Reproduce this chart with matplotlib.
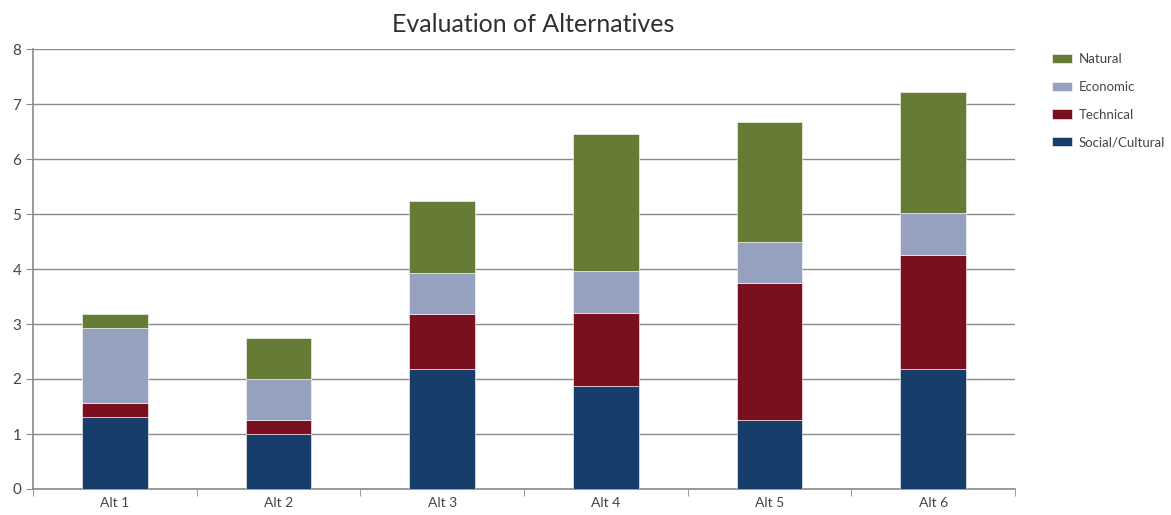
import matplotlib
matplotlib.use("Agg")
import matplotlib.pyplot as plt
import numpy as np

categories = ["Alt 1", "Alt 2", "Alt 3", "Alt 4", "Alt 5", "Alt 6"]
social = [1.31, 1.0, 2.18, 1.87, 1.25, 2.18]
technical = [0.25, 0.25, 1.0, 1.33, 2.5, 2.08]
economic = [1.37, 0.75, 0.75, 0.76, 0.74, 0.75]
natural = [0.25, 0.75, 1.31, 2.49, 2.19, 2.21]
series_names = ["Social/Cultural", "Technical", "Economic", "Natural"]
colors = ["#173D6A", "#7A0F1F", "#95A1BF", "#667B35"]

plt.rcParams['font.family'] = ['Lato', 'DejaVu Sans']

fig = plt.figure(figsize=(11.71, 5.15), dpi=100)
ax = fig.add_axes([33/1171, 1 - 489/515, (1015-33)/1171, (489-49)/515])

x = np.arange(len(categories))
bottom = np.zeros(len(categories))
handles = []
for vals, name, c in zip([social, technical, economic, natural], series_names, colors):
    b = ax.bar(x, vals, bottom=bottom, width=0.4, color=c, label=name,
               edgecolor="white", linewidth=0.4, zorder=3)
    handles.append(b)
    bottom += np.array(vals)

ax.set_xlim(-0.5, len(categories) - 0.5)
ax.set_ylim(0, 8)
ax.set_yticks(range(0, 9))
ax.yaxis.grid(True, color="#8a8a8a", linewidth=1.0, zorder=0)
ax.set_axisbelow(True)

ax.set_xticks(x)
ax.set_xticklabels(categories)
ax.set_xticks(np.arange(-0.5, len(categories) + 0.5, 1), minor=True)
ax.tick_params(axis="x", which="major", length=0, labelsize=10, colors="#454545", pad=6)
ax.tick_params(axis="x", which="minor", length=5, color="#8a8a8a", direction="out")
ax.tick_params(axis="y", length=5, color="#8a8a8a", labelsize=11, labelcolor="#454545", direction="out")

for s in ["top", "right"]:
    ax.spines[s].set_visible(False)
ax.spines["left"].set_color("#8a8a8a")
ax.spines["bottom"].set_color("#8a8a8a")
ax.spines["left"].set_linewidth(1.2)
ax.spines["bottom"].set_linewidth(1.2)

fig.text(533/1171, 1 - 25/515, "Evaluation of Alternatives", ha="center", va="center",
         fontsize=18, color="#303030")

leg = fig.legend(handles[::-1], series_names[::-1], loc="upper left",
                 bbox_to_anchor=(1044/1171, 1 - 45/515), frameon=False,
                 fontsize=9.5, handlelength=1.5, handleheight=0.7,
                 labelspacing=1.2, handletextpad=0.55, borderaxespad=0.2)
for t in leg.get_texts():
    t.set_color("#454545")

fig.savefig("out.png", dpi=100)
